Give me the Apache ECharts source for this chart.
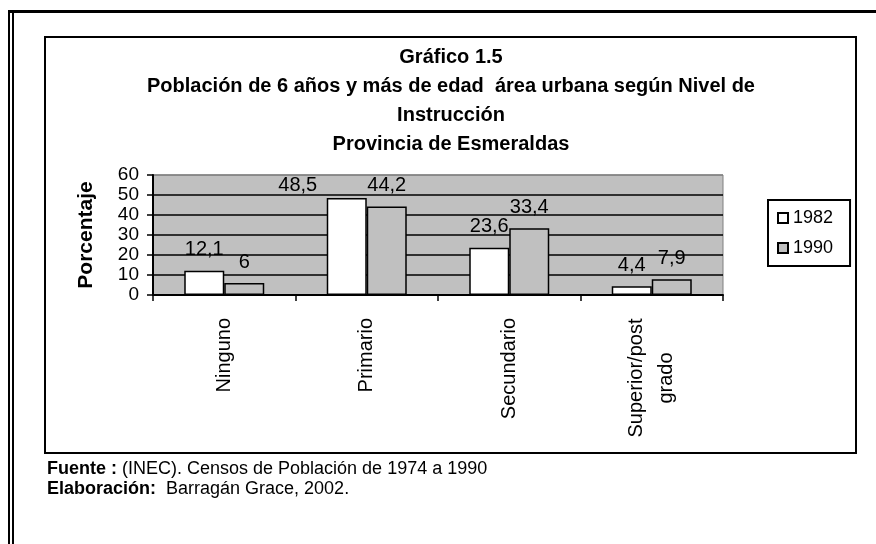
<!DOCTYPE html>
<html>
<head>
<meta charset="utf-8">
<script src="https://cdn.jsdelivr.net/npm/echarts@6/dist/echarts.min.js"></script>
<style>
  html, body { margin: 0; padding: 0; background: #fff; }
  #chart { width: 876px; height: 544px; }
</style>
</head>
<body>
<div id="chart"></div>
<script>
const categories = ['Ninguno', 'Primario', 'Secundario', 'Superior/post\ngrado']
const years = ['1982', '1990']
const values1982 = [12.1, 48.5, 23.6, 4.4]
const values1990 = [6, 44.2, 33.4, 7.9]
const titleLines = [
  'Gráfico 1.5',
  'Población de 6 años y más de edad  área urbana según Nivel de',
  'Instrucción',
  'Provincia de Esmeraldas'
]

const FONT = "'Liberation Sans', Arial, sans-serif"
const comma = v => String(v).replace('.', ',')

const chart = echarts.init(document.getElementById('chart'))

// 48,5 sits left of its bar in the original, nudge it there
const data1982 = values1982.map((v, i) => i === 1 ? { value: v, label: { offset: [-49, 8] } } : v)

// two-line category labels: centre each line on the other
const catLabel = v => v.includes('\n') ? v.split('\n').map(s => '{c|' + s + '}').join('\n') : v

const barLabel = {
  show: true, position: 'top', distance: 11,
  fontSize: 20, color: '#000', fontFamily: FONT,
  formatter: p => comma(p.value)
}

chart.setOption({
  animation: false,
  textStyle: { fontFamily: FONT, color: '#000' },
  grid: {
    left: 153, right: 153, top: 175, bottom: 249,
    containLabel: false,
    outerBoundsMode: 'none',
    show: true,
    backgroundColor: '#c0c0c0',
    borderColor: '#808080',
    borderWidth: 1
  },
  legend: {
    data: years,
    orient: 'vertical',
    left: 768, top: 200,
    itemWidth: 10, itemHeight: 10, itemGap: 10,
    padding: [8, 17, 8, 9],
    borderColor: '#000', borderWidth: 2,
    icon: 'rect',
    textStyle: { fontSize: 18, color: '#000', lineHeight: 20, fontFamily: FONT }
  },
  xAxis: {
    type: 'category',
    data: categories,
    axisLine: { lineStyle: { color: '#000', width: 2 } },
    axisTick: { show: true, length: 6, lineStyle: { color: '#000', width: 1.5 } },
    axisLabel: {
      rotate: 90, interval: 0, margin: 23, fontSize: 20, color: '#000', lineHeight: 30, fontFamily: FONT,
      formatter: catLabel,
      rich: { c: { width: 120, align: 'center', fontSize: 20, lineHeight: 30, fontFamily: FONT, color: '#000' } }
    },
    splitLine: { show: false }
  },
  yAxis: {
    type: 'value',
    min: 0, max: 60, interval: 10,
    name: 'Porcentaje',
    nameLocation: 'middle',
    nameGap: 56,
    nameTextStyle: { fontSize: 21, fontWeight: 'bold', color: '#000', fontFamily: FONT },
    axisLine: { show: true, lineStyle: { color: '#000', width: 2 } },
    axisTick: { show: true, length: 6, lineStyle: { color: '#000', width: 1.5 } },
    axisLabel: { margin: 14, fontSize: 19, color: '#000', fontFamily: FONT },
    splitLine: { show: true, lineStyle: { color: ['#000', '#000', '#000', '#000', '#000', '#000', '#808080'], width: 1.5 } }
  },
  series: [
    {
      name: years[0],
      type: 'bar',
      data: data1982,
      barWidth: 40,
      barGap: '0%',
      itemStyle: { color: '#fff', borderColor: '#000', borderWidth: 1.5 },
      label: barLabel
    },
    {
      name: years[1],
      type: 'bar',
      data: values1990,
      barWidth: 40,
      itemStyle: { color: '#c0c0c0', borderColor: '#000', borderWidth: 1.5 },
      label: barLabel
    }
  ],
  graphic: [
    // page rules: thick top line, double line on the left
    { type: 'rect', shape: { x: 8, y: 10, width: 868, height: 3 }, style: { fill: '#000' } },
    { type: 'rect', shape: { x: 8, y: 10, width: 2, height: 534 }, style: { fill: '#000' } },
    { type: 'rect', shape: { x: 12, y: 13, width: 2, height: 531 }, style: { fill: '#000' } },
    // chart frame
    { type: 'rect', shape: { x: 45, y: 37, width: 811, height: 416 }, style: { fill: 'none', stroke: '#000', lineWidth: 2 } },
    {
      type: 'text',
      x: 451, y: 43,
      style: {
        text: titleLines.join('\n'),
        textAlign: 'center',
        fontFamily: FONT, fontSize: 20, fontWeight: 'bold',
        lineHeight: 29, fill: '#000'
      }
    },
    {
      type: 'text',
      x: 47, y: 459,
      style: {
        text: '{b|Fuente :} (INEC). Censos de Población de 1974 a 1990\n{b|Elaboración:}  Barragán Grace, 2002.',
        fontFamily: FONT, fontSize: 18, lineHeight: 20, fill: '#000',
        rich: { b: { fontWeight: 'bold', fontSize: 18, fontFamily: FONT, lineHeight: 20 } }
      }
    }
  ]
})
</script>
</body>
</html>
